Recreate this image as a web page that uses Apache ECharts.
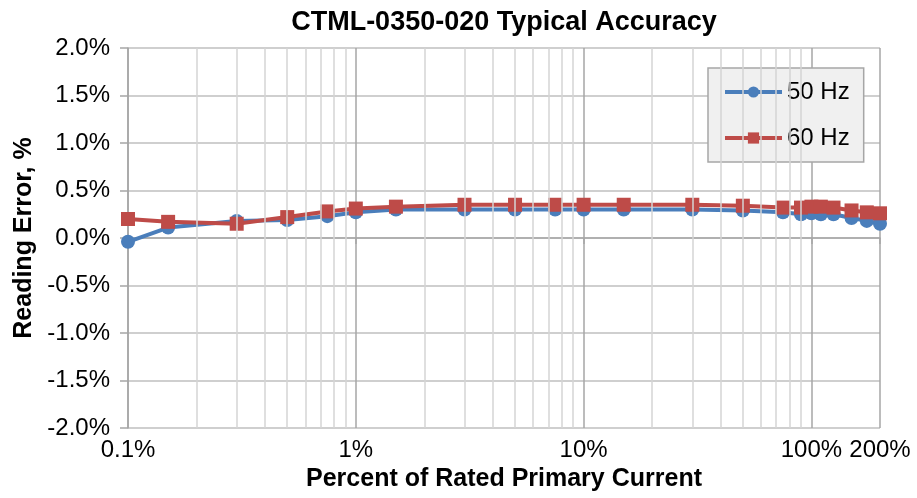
<!DOCTYPE html>
<html>
<head>
<meta charset="utf-8">
<script src="https://cdn.jsdelivr.net/npm/echarts@6/dist/echarts.min.js"></script>
<style>
	body { margin: 0; background: #ffffff; }
	#chat_1 { width: 917px; height: 498px; }
</style>
</head>
<body>
<div id="chat_1"></div>
<script>
	// percent of rated primary current (log axis)
	var xPercent = [0.1, 0.15, 0.3, 0.5, 0.75, 1, 1.5, 3, 5, 7.5, 10, 15, 30, 50, 75, 90, 100, 110, 125, 150, 175, 200];
	// reading error, %
	var err50 = [-0.04, 0.11, 0.18, 0.19, 0.23, 0.27, 0.30, 0.30, 0.30, 0.30, 0.30, 0.30, 0.30, 0.29, 0.27, 0.25, 0.26, 0.25, 0.25, 0.21, 0.18, 0.15];
	var err60 = [0.20, 0.17, 0.15, 0.22, 0.28, 0.31, 0.33, 0.35, 0.35, 0.35, 0.35, 0.35, 0.35, 0.34, 0.32, 0.32, 0.33, 0.33, 0.32, 0.29, 0.27, 0.26];
	var seriesNames = ['50 Hz', '60 Hz'];
	var decades = [0.1, 1, 10, 100];

	// 2..9 lines inside each decade (log grid)
	var minorGrid = [];
	decades.forEach(function(d) {
		for (var k = 2; k <= 9; k++) {
			if (k * d < 200) minorGrid.push(Number((k * d).toPrecision(6)));
		}
	});

	function pairs(ys) {
		return xPercent.map(function(x, i) { return [x, ys[i]]; });
	}

	var fontFam = '"Liberation Sans", Arial, Helvetica, sans-serif';
	var chart = echarts.init(document.getElementById('chat_1'), null, { renderer: 'canvas' });

	var option = {
		animation: false,
		textStyle: { fontFamily: fontFam, color: '#000' },
		title: {
			text: 'CTML-0350-020 Typical Accuracy',
			left: 499,
			textAlign: 'center',
			top: 4,
			textStyle: { fontSize: 27, fontWeight: 'bold', color: '#000', fontFamily: fontFam }
		},
		legend: {
			data: seriesNames,
			orient: 'vertical',
			left: 708,
			top: 68,
			padding: [12, 14, 12, 15],
			itemGap: 22,
			itemWidth: 57,
			itemHeight: 14,
			backgroundColor: '#f0f0f0',
			borderColor: '#a6a6a6',
			borderWidth: 1.5,
			borderRadius: 0,
			lineStyle: { width: 4 },
			textStyle: { fontSize: 24, color: '#000' }
		},
		grid: {
			left: 128,
			right: 37,
			top: 48,
			bottom: 70,
			containLabel: false
		},
		xAxis: {
			type: 'log',
			logBase: 10,
			min: 0.1,
			max: 200,
			name: 'Percent of Rated Primary Current',
			nameLocation: 'middle',
			nameGap: 38,
			nameTextStyle: { fontSize: 25, fontWeight: 'bold', color: '#000' },
			axisLine: { lineStyle: { color: '#a6a6a6', width: 1.5 } },
			axisTick: { show: true, length: 6, lineStyle: { color: '#a6a6a6', width: 1.5 } },
			axisLabel: {
				fontSize: 24,
				color: '#000',
				margin: 10,
				formatter: function(v) { return Number(v.toPrecision(6)) + '%'; }
			},
			splitLine: { show: true, lineStyle: { color: '#a6a6a6', width: 1.5 } },
			minorTick: { show: false },
			minorSplitLine: { show: false }
		},
		yAxis: {
			type: 'value',
			min: -2,
			max: 2,
			interval: 0.5,
			name: 'Reading Error, %',
			nameLocation: 'middle',
			nameGap: 90,
			nameTextStyle: { fontSize: 25, fontWeight: 'bold', color: '#000' },
			axisLine: { show: true, lineStyle: { color: '#a6a6a6', width: 1.5 } },
			axisTick: { show: true, length: 8, lineStyle: { color: '#a6a6a6', width: 1.5 } },
			axisLabel: {
				fontSize: 24,
				color: '#000',
				margin: 18,
				formatter: function(v) { return v.toFixed(1) + '%'; }
			},
			splitLine: { show: true, lineStyle: { color: '#bfbfbf', width: 1.5 } }
		},
		series: [
			{
				name: 'grid',
				type: 'line',
				data: [],
				z: 1,
				silent: true,
				markLine: {
					silent: true,
					symbol: 'none',
					label: { show: false },
					lineStyle: { color: '#d4d4d4', width: 1.5, type: 'solid' },
					data: minorGrid.map(function(v) { return { xAxis: v }; })
				}
			},
			{
				name: seriesNames[0],
				type: 'line',
				data: pairs(err50),
				z: 3,
				symbol: 'circle',
				symbolSize: 14,
				color: '#4a7ebb',
				lineStyle: { width: 4, color: '#4a7ebb' },
				itemStyle: { color: '#4a7ebb' }
			},
			{
				name: seriesNames[1],
				type: 'line',
				data: pairs(err60),
				z: 4,
				symbol: 'rect',
				symbolSize: 14,
				color: '#be4b48',
				lineStyle: { width: 4, color: '#be4b48' },
				itemStyle: { color: '#be4b48' }
			}
		]
	};

	chart.setOption(option);
</script>
</body>
</html>
